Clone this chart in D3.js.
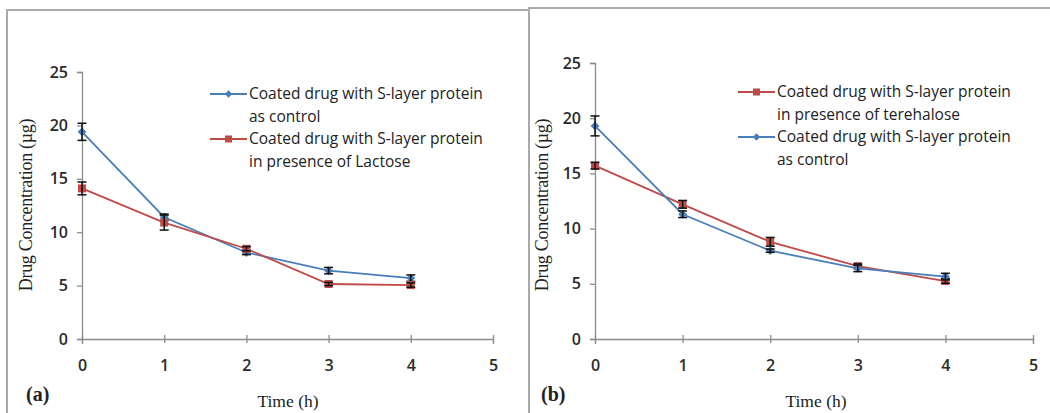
<!DOCTYPE html>
<html>
<head>
<meta charset="utf-8">
<script src="https://cdn.jsdelivr.net/npm/d3@7"></script>
<style>
  html, body { margin: 0; padding: 0; background: #fff; }
  svg { display: block; }
</style>
</head>
<body>
<svg id="chart" width="1050" height="413"></svg>
<script>
// Sampling times (h)
const times = [0, 1, 2, 3, 4];
const xTicks = [0, 1, 2, 3, 4, 5];
const yTicks = [0, 5, 10, 15, 20, 25];

// Panel (a): control vs lactose
const controlA = [19.4, 11.4, 8.1, 6.4, 5.7];
const controlAErr = [0.8, 0.3, 0.2, 0.3, 0.3];
const lactose = [14.1, 10.9, 8.45, 5.15, 5.05];
const lactoseErr = [0.6, 0.7, 0.2, 0.15, 0.2];

// Panel (b): terehalose vs control
const terehalose = [15.7, 12.2, 8.8, 6.6, 5.25];
const terehaloseErr = [0.3, 0.35, 0.4, 0.2, 0.2];
const controlB = [19.3, 11.3, 8.0, 6.4, 5.65];
const controlBErr = [0.9, 0.3, 0.15, 0.3, 0.3];

const labelControl = ["Coated drug with S-layer protein", "as control"];
const labelLactose = ["Coated drug with S-layer protein", "in presence of Lactose"];
const labelTerehalose = ["Coated drug with S-layer protein", "in presence of terehalose"];

const BLUE = "#4a7ebb";
const RED = "#be4b48";

const svg = d3.select("#chart");

// Panel frames
const frame = svg.append("g").attr("stroke", "#a9a9a9").attr("stroke-width", 2).attr("fill", "none");
frame.append("path").attr("d", "M7,413 L7,10 L529,10");
frame.append("path").attr("d", "M529,413 L529,8 L1050,8");

function panel(cfg) {
  const g = svg.append("g");
  const x = d3.scaleLinear().domain([0, 5]).range([cfg.x0, cfg.x1]);
  const y = d3.scaleLinear().domain([0, 25]).range([cfg.y0, cfg.y1]);

  const yAxis = g.append("g").attr("transform", `translate(${cfg.x0},0)`)
    .call(d3.axisLeft(y).tickValues(yTicks).tickFormat(d3.format("d")).tickSize(5).tickPadding(9));
  const xAxis = g.append("g").attr("transform", `translate(0,${cfg.y0})`)
    .call(d3.axisBottom(x).tickValues(xTicks).tickFormat(d3.format("d")).tickSize(5).tickPadding(16));
  [yAxis, xAxis].forEach(a => {
    a.select(".domain").attr("stroke", "#8c8c8c").attr("stroke-width", 1.3);
    a.selectAll(".tick line").attr("stroke", "#8c8c8c").attr("stroke-width", 1.3);
    a.selectAll(".tick text").attr("fill", "#2a2a2a").style("font-family", "'Open Sans', sans-serif")
      .style("font-size", "16px").style("font-weight", "600");
  });
  xAxis.selectAll(".tick line").attr("y1", -4).attr("y2", 4);
  yAxis.selectAll(".tick line").attr("x1", -5).attr("x2", 0);

  const line = d3.line().x((d, i) => x(times[i])).y(d => y(d));

  function series(vals, errs, color, marker) {
    const s = g.append("g");
    s.append("path").datum(vals).attr("d", line).attr("fill", "none")
      .attr("stroke", color).attr("stroke-width", 1.8);
    if (marker === "square") {
      s.selectAll("rect").data(vals).join("rect")
        .attr("x", (d, i) => x(times[i]) - 4).attr("y", d => y(d) - 4)
        .attr("width", 8).attr("height", 8).attr("fill", color);
    } else {
      s.selectAll("path.m").data(vals).join("path").attr("class", "m")
        .attr("transform", (d, i) => `translate(${x(times[i])},${y(d)})`)
        .attr("d", d3.symbol(d3.symbolDiamond2, 50)).attr("fill", color);
    }
    // error bars
    const eb = s.append("g").attr("stroke", "#111").attr("stroke-width", 1.5);
    vals.forEach((v, i) => {
      const cx = x(times[i]);
      const top = y(v + errs[i]), bot = y(v - errs[i]);
      eb.append("line").attr("x1", cx).attr("x2", cx).attr("y1", top).attr("y2", bot);
      eb.append("line").attr("x1", cx - 4.5).attr("x2", cx + 4.5).attr("y1", top).attr("y2", top);
      eb.append("line").attr("x1", cx - 4.5).attr("x2", cx + 4.5).attr("y1", bot).attr("y2", bot);
    });
  }
  cfg.series.forEach(sr => series(sr.vals, sr.errs, sr.color, sr.marker));

  // legend
  const lg = g.append("g");
  cfg.series.forEach((sr, k) => {
    const ly = cfg.legY + k * 45;
    lg.append("line").attr("x1", cfg.legX).attr("x2", cfg.legX + 37)
      .attr("y1", ly).attr("y2", ly).attr("stroke", sr.color).attr("stroke-width", 1.8);
    if (sr.marker === "square") {
      lg.append("rect").attr("x", cfg.legX + 18.5 - 3.5).attr("y", ly - 3.5).attr("width", 7).attr("height", 7).attr("fill", sr.color);
    } else {
      lg.append("path").attr("transform", `translate(${cfg.legX + 18.5},${ly})`)
        .attr("d", d3.symbol(d3.symbolDiamond2, 36)).attr("fill", sr.color);
    }
    sr.label.forEach((t, j) => {
      lg.append("text").attr("x", cfg.legX + 39).attr("y", ly + j * 22.5).attr("dy", "0.35em")
        .attr("fill", "#222").style("font-family", "'Open Sans', sans-serif").style("font-size", "15.5px")
        .text(t);
    });
  });

  // axis titles
  g.append("text").attr("x", cfg.xtX).attr("y", 407)
    .attr("text-anchor", "middle").attr("fill", "#222")
    .style("font-family", "'Liberation Serif', serif").style("font-size", "17.5px")
    .text("Time (h)");
  g.append("text").attr("transform", `translate(${cfg.ytX},${cfg.ytY}) rotate(-90)`)
    .attr("text-anchor", "middle").attr("fill", "#222")
    .style("font-family", "'Liberation Serif', serif").style("font-size", "18px")
    .style("letter-spacing", "-0.3px")
    .text("Drug Concentration (µg)");
  g.append("text").attr("x", cfg.tagX).attr("y", 401).attr("fill", "#222")
    .style("font-family", "'Liberation Serif', serif").style("font-size", "20px").style("font-weight", "bold")
    .text(cfg.tag);
}

panel({
  x0: 82, x1: 493, y0: 339, y1: 72,
  legX: 210, legY: 94, ytX: 32, ytY: 205, xtX: 288, tagX: 26, tag: "(a)",
  series: [
    { vals: controlA, errs: controlAErr, color: BLUE, marker: "diamond", label: labelControl },
    { vals: lactose, errs: lactoseErr, color: RED, marker: "square", label: labelLactose }
  ]
});

panel({
  x0: 595, x1: 1033, y0: 339, y1: 63,
  legX: 738, legY: 92, ytX: 548, ytY: 205, xtX: 816, tagX: 541, tag: "(b)",
  series: [
    { vals: terehalose, errs: terehaloseErr, color: RED, marker: "square", label: labelTerehalose },
    { vals: controlB, errs: controlBErr, color: BLUE, marker: "diamond", label: labelControl }
  ]
});
</script>
</body>
</html>
